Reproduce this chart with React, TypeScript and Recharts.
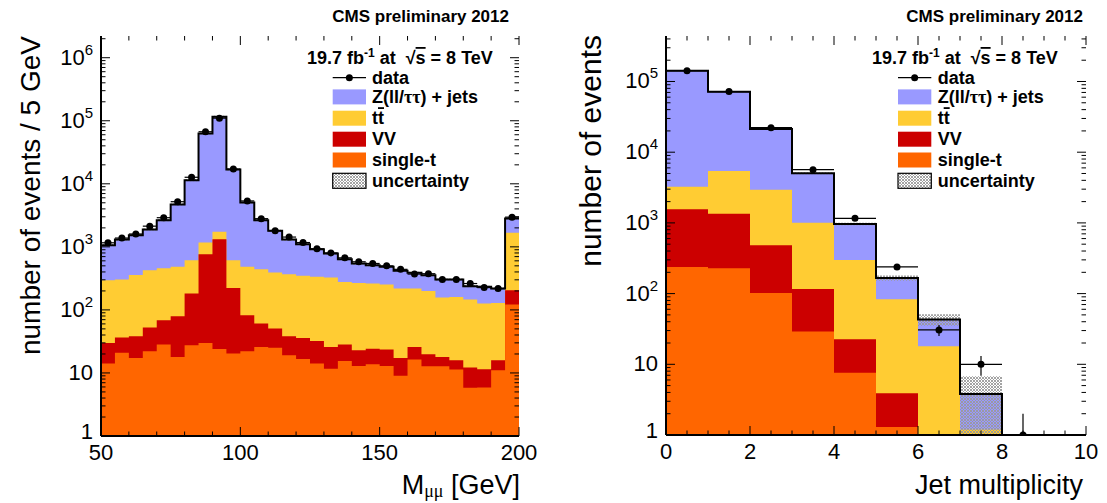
import React from 'react';
import { ComposedChart, Area, Line, Scatter, ErrorBar, XAxis, YAxis } from 'recharts';

// ---------- M(mumu) panel: 5 GeV bins from 50 to 200 ----------
const massEdges = [50, 55, 60, 65, 70, 75, 80, 85, 90, 95, 100, 105, 110, 115, 120, 125, 130, 135, 140, 145, 150, 155, 160, 165, 170, 175, 180, 185, 190, 195, 200];
const massSingleT = [14.1, 21, 17.3, 22, 28.2, 17.9, 27.5, 29.9, 24, 20.3, 22, 25.9, 25.2, 19.1, 16.7, 14.1, 11.7, 15.5, 12.9, 13.7, 12.9, 9.0, 16.3, 12.8, 12.8, 11.3, 5.8, 5.9, 11.0, 122];
const massVV = [15.8, 15.4, 20.9, 30.5, 40.3, 61.5, 154, 735, 1300, 203, 60, 34.8, 25.4, 19.1, 19.3, 18.1, 14.2, 12.7, 10.0, 10.6, 10.6, 8.3, 9.6, 7.0, 5.1, 4.6, 6.4, 5.5, 4.9, 83];
const massTT = [266, 267, 321, 374, 391, 402, 432, 407, 406, 391, 400, 381, 341, 330, 311, 302, 300, 250, 245, 238, 229, 201, 192, 180, 139, 145, 134, 115, 113, 1462];
const massZ = [766, 1004, 1172, 1458, 2191, 4219, 10800, 61700, 114000, 16300, 4575, 2208, 1403, 939, 755, 584, 458, 359, 275, 250, 230, 198, 169, 155, 146, 142, 92, 106, 89, 1151];
const massUnc = [42, 52, 61, 75, 106, 190, 460, 2500, 4600, 680, 200, 106, 72, 52, 44, 37, 31, 26, 22, 20, 19, 17, 15, 14, 12, 12, 10, 9, 9, 110];
const massData = [1160, 1380, 1600, 2130, 2900, 5200, 12700, 67000, 110000, 17100, 5350, 2800, 1800, 1430, 1170, 930, 800, 670, 580, 545, 500, 440, 370, 375, 303, 303, 262, 226, 218, 2960];

// ---------- jet multiplicity panel ----------
const jetEdges = [0, 1, 2, 3, 4, 5, 6, 7, 8, 9, 10];
const jetSingleT = [238, 228, 102, 29, 7.6, 1.3, 0, 0, 0, 0];
const jetVV = [1320, 1120, 380, 87, 15, 2.6, 0, 0, 0, 0];
const jetTT = [1690, 4070, 2470, 890, 276, 79, 18, 1.2, 0, 0];
const jetZ = [138800, 66400, 18300, 4020, 666, 83, 25, 2.6, 0, 0];
const jetUnc = [3000, 1500, 500, 150, 40, 14, 8, 3, 0, 0];
const jetData = [142000, 72000, 22200, 5650, 1160, 238, 30.6, 10, 1];
const jetErrLow = [380, 270, 150, 75, 34, 15, 5.5, 3.1, 0];
const jetErrHigh = [380, 270, 150, 75, 34, 15, 5.5, 3.1, 1];

// ticks
const massXTicks = [50, 60, 70, 80, 90, 100, 110, 120, 130, 140, 150, 160, 170, 180, 190, 200];
const massXLabels = [50, 100, 150, 200];
const jetXTicks = [0, 0.5, 1, 1.5, 2, 2.5, 3, 3.5, 4, 4.5, 5, 5.5, 6, 6.5, 7, 7.5, 8, 8.5, 9, 9.5, 10];
const jetXLabels = [0, 2, 4, 6, 8, 10];
const decades = [1, 10, 100, 1000, 10000, 100000, 1000000];

const MASS_YMAX = 2.21e6;
const JET_YMAX = 4.4e5;

const COL = { z: '#9999ff', tt: '#ffcc33', vv: '#cc0000', st: '#ff6600' };
const FONT = '"Liberation Sans", Arial, Helvetica, sans-serif';
const SERIF = '"Liberation Serif", "Times New Roman", serif';

// empty bins go far below the log axis and get clipped
const lift = (v: number) => Math.max(v, 0.01);

const buildRows = (edges: number[], st: number[], vv: number[], tt: number[], z: number[], unc: number[]) =>
  edges.map((x, i) => {
    const k = Math.min(i, st.length - 1);
    const s1 = st[k];
    const s2 = s1 + vv[k];
    const s3 = s2 + tt[k];
    const s4 = s3 + z[k];
    return { x, st: lift(s1), vv: lift(s2), tt: lift(s3), z: lift(s4), band: [lift(s4 - unc[k]), lift(s4 + unc[k])] };
  });

const massRows = buildRows(massEdges, massSingleT, massVV, massTT, massZ, massUnc);
const jetRows = buildRows(jetEdges, jetSingleT, jetVV, jetTT, jetZ, jetUnc);

const massPoints = massData.map((y, i) => ({
  x: (massEdges[i] + massEdges[i + 1]) / 2,
  y,
  ex: (massEdges[i + 1] - massEdges[i]) / 2,
}));
const jetPoints = jetData.map((y, i) => ({
  x: (jetEdges[i] + jetEdges[i + 1]) / 2,
  y,
  ex: (jetEdges[i + 1] - jetEdges[i]) / 2,
  ey: [jetErrLow[i], jetErrHigh[i]],
}));

const logTicks = (max: number) =>
  decades.flatMap((d) => [1, 2, 3, 4, 5, 6, 7, 8, 9].map((m) => d * m)).filter((v) => v <= max);

type Geom = { l: number; r: number; t: number; b: number };

const makeXTick = (g: Geom, labels: number[]) => (props: any) => {
  const { x, payload } = props;
  const v = payload.value;
  const major = labels.includes(v);
  const len = major ? 9 : 4.5;
  return (
    <g>
      <line x1={x} x2={x} y1={g.b} y2={g.b - len} stroke="#000" strokeWidth={1} />
      <line x1={x} x2={x} y1={g.t} y2={g.t + len} stroke="#000" strokeWidth={1} />
      {major && (
        <text x={x} y={g.b + 24} textAnchor="middle" fontSize={22} fontFamily={FONT} fill="#000">
          {v}
        </text>
      )}
    </g>
  );
};

const makeYTick = (g: Geom) => (props: any) => {
  const { y, payload } = props;
  const v = payload.value;
  const exp = Math.round(Math.log10(v));
  const major = Math.abs(v - Math.pow(10, exp)) < 1e-6 * v;
  const len = major ? 9 : 4.5;
  return (
    <g>
      <line x1={g.l} x2={g.l + len} y1={y} y2={y} stroke="#000" strokeWidth={1} />
      <line x1={g.r} x2={g.r - len} y1={y} y2={y} stroke="#000" strokeWidth={1} />
      {major && (
        <text x={g.l - 8} y={y + (exp === 0 ? 3 : 7)} textAnchor="end" fontSize={22} fontFamily={FONT} fill="#000">
          {exp === 0 ? '1' : '10'}
          {exp > 1 && (
            <tspan dy={-10} fontSize={15}>
              {exp}
            </tspan>
          )}
        </text>
      )}
    </g>
  );
};

const dataDot = (props: any) => <circle cx={props.cx} cy={props.cy} r={3.5} fill="#000" />;

const axisLine = { stroke: '#000', strokeWidth: 2 };

interface PanelProps {
  width: number;
  rows: any[];
  points: any[];
  xDomain: [number, number];
  xTicks: number[];
  xLabels: number[];
  yMax: number;
  yAxisWidth: number;
  xAxisHeight: number;
  withYErr: boolean;
}

const Panel: React.FC<PanelProps> = ({ width, rows, points, xDomain, xTicks, xLabels, yMax, yAxisWidth, xAxisHeight, withYErr }) => {
  const height = 503;
  const right = 21;
  const top = 36;
  const g: Geom = { l: yAxisWidth, r: width - right, t: top, b: height - xAxisHeight };
  return (
    <ComposedChart width={width} height={height} data={rows} margin={{ top, right, bottom: 0, left: 0 }}>
      <Area xAxisId="b" yAxisId="l" type="stepAfter" dataKey="z" fill={COL.z} fillOpacity={1} stroke="none" baseValue={1} isAnimationActive={false} />
      <Area xAxisId="b" yAxisId="l" type="stepAfter" dataKey="tt" fill={COL.tt} fillOpacity={1} stroke="none" baseValue={1} isAnimationActive={false} />
      <Area xAxisId="b" yAxisId="l" type="stepAfter" dataKey="vv" fill={COL.vv} fillOpacity={1} stroke="none" baseValue={1} isAnimationActive={false} />
      <Area xAxisId="b" yAxisId="l" type="stepAfter" dataKey="st" fill={COL.st} fillOpacity={1} stroke="none" baseValue={1} isAnimationActive={false} />
      <Area xAxisId="b" yAxisId="l" type="stepAfter" dataKey="band" fill="url(#uncHatch)" fillOpacity={1} stroke="none" isAnimationActive={false} />
      <Line xAxisId="b" yAxisId="l" type="stepAfter" dataKey="z" stroke="#000" strokeWidth={2} dot={false} activeDot={false} isAnimationActive={false} />
      <Scatter xAxisId="b" yAxisId="l" data={points} dataKey="y" shape={dataDot} isAnimationActive={false}>
        <ErrorBar dataKey="ex" direction="x" width={0} stroke="#000" strokeWidth={1.2} />
        {withYErr && <ErrorBar dataKey="ey" direction="y" width={0} stroke="#000" strokeWidth={1.2} />}
      </Scatter>
      <XAxis
        xAxisId="b"
        dataKey="x"
        type="number"
        domain={xDomain}
        allowDataOverflow
        ticks={xTicks}
        interval={0}
        tick={makeXTick(g, xLabels)}
        tickLine={false}
        axisLine={axisLine}
        height={xAxisHeight}
      />
      <XAxis xAxisId="t" orientation="top" dataKey="x" type="number" domain={xDomain} allowDataOverflow tick={false} tickLine={false} axisLine={axisLine} height={0} />
      <YAxis
        yAxisId="l"
        scale="log"
        type="number"
        domain={[1, yMax]}
        allowDataOverflow
        ticks={logTicks(yMax)}
        interval={0}
        tick={makeYTick(g)}
        tickLine={false}
        axisLine={axisLine}
        width={yAxisWidth}
      />
      <YAxis yAxisId="r" orientation="right" scale="log" type="number" domain={[1, yMax]} allowDataOverflow tick={false} tickLine={false} axisLine={axisLine} width={0} />
    </ComposedChart>
  );
};

const rowCenters = [77.7, 96.9, 118.2, 139.2, 160, 180.8];

const LegendBlock: React.FC<{ headX: number; boxX: number; textX: number }> = ({ headX, boxX, textX }) => {
  const bw = 33.3;
  const bh = 15;
  const fills = [COL.z, COL.tt, COL.vv, COL.st, 'url(#uncHatch)'];
  return (
    <g fontFamily={FONT} fontWeight="bold" fontSize={18} fill="#000">
      <text x={headX} y={64} style={{ whiteSpace: 'pre' }}>
        19.7 fb
        <tspan dy={-7} fontSize={12}>-1</tspan>
        <tspan dy={7}> at  √</tspan>
        <tspan style={{ textDecoration: 'overline' }}>s</tspan>
        <tspan> = 8 TeV</tspan>
      </text>
      <line x1={boxX} x2={boxX + bw} y1={rowCenters[0]} y2={rowCenters[0]} stroke="#000" strokeWidth={1.2} />
      <circle cx={boxX + bw / 2} cy={rowCenters[0]} r={3.5} fill="#000" />
      {fills.map((f, i) => (
        <rect
          key={i}
          x={boxX}
          y={rowCenters[i + 1] - bh / 2}
          width={bw}
          height={bh}
          fill={f}
          stroke={i === 4 ? '#000' : 'none'}
          strokeWidth={1.2}
        />
      ))}
      <text x={textX} y={rowCenters[0] + 6}>data</text>
      <text x={textX} y={rowCenters[1] + 6}>
        Z(ll/<tspan fontFamily={SERIF}>ττ</tspan>) + jets
      </text>
      <text x={textX} y={rowCenters[2] + 6}>
        t<tspan style={{ textDecoration: 'overline' }}>t</tspan>
      </text>
      <text x={textX} y={rowCenters[3] + 6}>VV</text>
      <text x={textX} y={rowCenters[4] + 6}>single-t</text>
      <text x={textX} y={rowCenters[5] + 6}>uncertainty</text>
    </g>
  );
};

export default function App() {
  return (
    <div style={{ position: 'absolute', left: 0, top: 0, width: 1107, height: 503, background: '#fff', overflow: 'hidden' }}>
      <svg width={0} height={0} style={{ position: 'absolute' }}>
        <defs>
          <pattern id="uncHatch" patternUnits="userSpaceOnUse" width={3} height={3}>
            <path d="M0,3 L3,0 M-1,1 L1,-1 M2,4 L4,2" stroke="#9a9a9a" strokeWidth={0.9} />
            <path d="M0,0 L3,3 M-1,2 L1,4 M2,-1 L4,1" stroke="#9a9a9a" strokeWidth={0.9} />
          </pattern>
        </defs>
      </svg>
      <div style={{ position: 'absolute', left: 0, top: 0 }}>
        <Panel
          width={540}
          rows={massRows}
          points={massPoints}
          xDomain={[50, 200]}
          xTicks={massXTicks}
          xLabels={massXLabels}
          yMax={MASS_YMAX}
          yAxisWidth={101}
          xAxisHeight={67}
          withYErr={false}
        />
      </div>
      <div style={{ position: 'absolute', left: 560, top: 0 }}>
        <Panel
          width={547}
          rows={jetRows}
          points={jetPoints}
          xDomain={[0, 10]}
          xTicks={jetXTicks}
          xLabels={jetXLabels}
          yMax={JET_YMAX}
          yAxisWidth={106}
          xAxisHeight={68}
          withYErr={true}
        />
      </div>
      <svg width={1107} height={503} style={{ position: 'absolute', left: 0, top: 0, pointerEvents: 'none' }}>
        <g fontFamily={FONT} fill="#000">
          <text x={509} y={22} textAnchor="end" fontWeight="bold" fontSize={17}>CMS preliminary 2012</text>
          <text x={1083} y={22} textAnchor="end" fontWeight="bold" fontSize={17}>CMS preliminary 2012</text>
          <text x={40} y={36} textAnchor="end" fontSize={28} transform="rotate(-90, 40, 36)">number of events / 5 GeV</text>
          <text x={601} y={35} textAnchor="end" fontSize={30} transform="rotate(-90, 601, 35)">number of events</text>
          <text x={520} y={494} textAnchor="end" fontSize={27}>
            M<tspan dy={3} fontSize={18} fontFamily={SERIF}>μμ</tspan>
            <tspan dy={-3}> [GeV]</tspan>
          </text>
          <text x={1083} y={494} textAnchor="end" fontSize={27}>Jet multiplicity</text>
        </g>
        <LegendBlock headX={307} boxX={332.7} textX={372} />
        <LegendBlock headX={872} boxX={898} textX={937.7} />
      </svg>
    </div>
  );
}
